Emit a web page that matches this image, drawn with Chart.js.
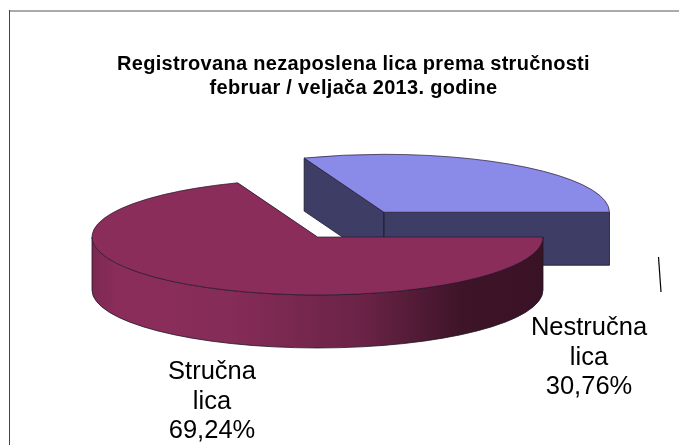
<!DOCTYPE html>
<html>
<head>
<meta charset="utf-8">
<script src="https://cdn.jsdelivr.net/npm/chart.js@4"></script>
<style>
    html, body { margin: 0; padding: 0; background: #fff; }
    #wrap { width: 679px; height: 445px; overflow: hidden; }
</style>
</head>
<body>
<div id="wrap"><canvas id="pie" width="679" height="445"></canvas></div>
<script>
const categories = ['Stručna lica', 'Nestručna lica'];
const shares = [69.24, 30.76];
const titleLines = ['Registrovana nezaposlena lica prema stručnosti', 'februar / veljača 2013. godine'];

const topColors = ['#8b2d5b', '#8a8ae9'];
const sideColors = ['#8b2d5b', '#3d3d66'];
const explode = [0, 117];

// look of the fake 3D
const squash = 0.257;
const depth = 53;
const pieCentre = {x: 317.5, y: 237};
const labelSpots = [{x: 212, y: 372}, {x: 589, y: 328}];

function polar(a, angle, dist) {
    return {x: a.cx + Math.cos(angle) * dist, y: a.cy + Math.sin(angle) * dist * squash};
}

function drawWalls(ctx, a, i) {
    const tip = {x: a.cx, y: a.cy};
    const from = polar(a, a.start, a.r);
    const to = polar(a, a.end, a.r);

    // cut faces, the ones facing away get covered by the top afterwards
    ctx.fillStyle = i === 0 ? '#3a1225' : sideColors[i];
    [from, to].forEach(p => {
        ctx.beginPath();
        ctx.moveTo(tip.x, tip.y);
        ctx.lineTo(p.x, p.y);
        ctx.lineTo(p.x, p.y + depth);
        ctx.lineTo(tip.x, tip.y + depth);
        ctx.closePath();
        ctx.fill();
        if (i === 1) ctx.stroke();
    });

    // outer wall only where it faces the viewer
    const s = Math.max(a.start, 0);
    const e = Math.min(a.end, Math.PI);
    if (e <= s) return;
    const grad = ctx.createLinearGradient(a.cx - a.r, 0, a.cx + a.r, 0);
    grad.addColorStop(0, '#7c2952');
    grad.addColorStop(0.06, '#8b2d5b');
    grad.addColorStop(0.3, '#862c58');
    grad.addColorStop(0.6, '#6a2346');
    grad.addColorStop(0.82, '#3e1428');
    grad.addColorStop(1, '#3a1225');
    ctx.fillStyle = grad;
    ctx.beginPath();
    ctx.ellipse(a.cx, a.cy, a.r, a.r * squash, 0, s, e);
    ctx.ellipse(a.cx, a.cy + depth, a.r, a.r * squash, 0, e, s, true);
    ctx.closePath();
    ctx.fill();
    ctx.stroke();
}

function drawEdges(ctx, a) {
    const from = polar(a, a.start, a.r);
    const to = polar(a, a.end, a.r);
    ctx.beginPath();
    ctx.moveTo(from.x, from.y);
    ctx.lineTo(a.cx, a.cy);
    ctx.lineTo(to.x, to.y);
    ctx.ellipse(a.cx, a.cy, a.r, a.r * squash, 0, a.end, a.start, true);
    ctx.stroke();
}

const pie3d = {
    id: 'pie3d',
    beforeDraw(chart) {
        // frame of the original sheet
        const ctx = chart.ctx;
        ctx.save();
        ctx.strokeStyle = '#aaaaaa';
        ctx.lineWidth = 2;
        ctx.beginPath();
        ctx.moveTo(9, 11);
        ctx.lineTo(679, 11);
        ctx.stroke();
        ctx.strokeStyle = '#444444';
        ctx.lineWidth = 1;
        ctx.beginPath();
        ctx.moveTo(9.5, 10);
        ctx.lineTo(9.5, 445);
        ctx.stroke();
        ctx.restore();
        // title text in the reference is spaced a little wider
        ctx.letterSpacing = '0.3px';
    },
    beforeDatasetsDraw(chart) {
        const ctx = chart.ctx;
        ctx.letterSpacing = '0px';
        const arcs = chart.getDatasetMeta(0).data;
        // back slice first so the big one sits in front of it
        for (let i = arcs.length - 1; i >= 0; i--) {
            const arc = arcs[i];
            const mid = (arc.startAngle + arc.endAngle) / 2;
            const a = {
                cx: pieCentre.x + Math.cos(mid) * explode[i],
                cy: pieCentre.y + Math.sin(mid) * explode[i] * squash,
                r: arc.outerRadius,
                start: arc.startAngle,
                end: arc.endAngle
            };
            ctx.save();
            ctx.lineWidth = 0.8;
            ctx.strokeStyle = '#1d1626';
            drawWalls(ctx, a, i);
            ctx.restore();

            ctx.save();
            ctx.translate(a.cx, a.cy);
            ctx.scale(1, squash);
            ctx.translate(-arc.x, -arc.y);
            arc.draw(ctx);
            ctx.restore();

            ctx.save();
            ctx.lineWidth = 0.7;
            ctx.strokeStyle = '#2a1a30';
            drawEdges(ctx, a);
            ctx.restore();
        }
        return false;
    },
    afterDraw(chart) {
        const ctx = chart.ctx;
        ctx.save();
        ctx.fillStyle = '#000';
        ctx.font = '25.5px "Liberation Sans"';
        ctx.textAlign = 'center';
        ctx.textBaseline = 'middle';
        categories.forEach((name, i) => {
            const lines = name.split(' ').concat(shares[i].toFixed(2).replace('.', ',') + '%');
            lines.forEach((line, j) => {
                ctx.fillText(line, labelSpots[i].x, labelSpots[i].y + j * 29.5);
            });
        });
        // stray leader line left in the original
        ctx.strokeStyle = '#000';
        ctx.lineWidth = 1.2;
        ctx.beginPath();
        ctx.moveTo(658.5, 257);
        ctx.lineTo(661, 292);
        ctx.stroke();
        ctx.restore();
    }
};

new Chart(document.getElementById('pie'), {
    type: 'pie',
    data: {
        labels: categories,
        datasets: [{
            data: shares,
            backgroundColor: topColors,
            borderWidth: 0
        }]
    },
    options: {
        responsive: false,
        animation: false,
        rotation: 90,
        radius: 225.5,
        layout: {padding: {left: 28}},
        plugins: {
            legend: {display: false},
            tooltip: {enabled: false},
            title: {
                display: true,
                text: titleLines,
                color: '#000',
                font: {family: '"Liberation Sans"', size: 20, weight: 'bold', lineHeight: 1.22},
                padding: {top: 52, bottom: 0}
            }
        }
    },
    plugins: [pie3d]
});
</script>
</body>
</html>
